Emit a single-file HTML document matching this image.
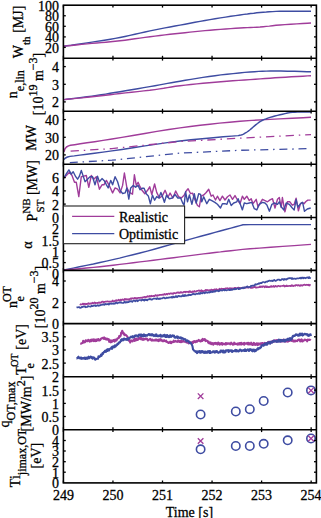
<!DOCTYPE html>
<html><head><meta charset="utf-8"><style>html,body{margin:0;padding:0;background:#fff;width:321px;height:518px;overflow:hidden;position:relative}</style></head>
<body>
<svg width="321" height="518" viewBox="0 0 321 518" style="position:absolute;left:0;top:0">
<rect width="321" height="518" fill="#fff"/>
<defs><clipPath id="ax"><rect x="63.4" y="5" width="253" height="477.6"/></clipPath></defs>
<g clip-path="url(#ax)">
<polyline points="64.0,46.2 67.0,45.8 71.3,45.2 76.2,44.4 81.6,43.7 87.0,42.9 92.0,42.1 96.6,41.4 101.3,40.7 105.9,40.0 110.5,39.2 115.2,38.4 120.0,37.5 124.9,36.5 129.9,35.4 134.9,34.3 139.9,33.1 145.0,32.0 150.0,30.9 155.0,29.9 160.0,28.9 165.0,27.9 170.0,27.0 175.0,26.0 180.0,25.1 185.0,24.2 190.0,23.2 195.0,22.3 200.0,21.4 205.0,20.5 210.0,19.6 215.1,18.8 220.4,17.9 225.6,17.1 230.7,16.3 235.6,15.6 240.0,15.0 243.9,14.4 247.4,14.0 250.6,13.5 253.7,13.2 256.8,12.8 260.0,12.5 263.2,12.2 266.3,12.0 269.3,11.7 272.5,11.6 276.0,11.4 280.0,11.3 284.9,11.2 290.7,11.2 296.8,11.2 302.6,11.2 307.5,11.2 311.0,11.2" fill="none" stroke="#3e4ca2" stroke-width="1.45" stroke-linejoin="round"/>
<polyline points="64.0,46.2 67.0,45.9 71.3,45.5 76.2,45.0 81.6,44.4 87.0,43.9 92.0,43.4 96.6,43.0 101.3,42.6 105.9,42.2 110.5,41.8 115.2,41.3 120.0,40.8 124.9,40.2 129.9,39.5 134.9,38.8 139.9,38.1 145.0,37.4 150.0,36.7 155.0,36.1 160.0,35.5 165.0,34.9 170.0,34.3 175.0,33.7 180.0,33.2 185.0,32.7 190.0,32.1 195.0,31.6 200.0,31.1 205.0,30.6 210.0,30.2 215.1,29.8 220.4,29.4 225.6,29.0 230.7,28.6 235.6,28.3 240.0,28.0 243.9,27.8 247.4,27.6 250.6,27.5 253.7,27.4 256.8,27.2 260.0,27.0 263.2,26.7 266.3,26.4 269.3,26.1 272.5,25.7 276.0,25.3 280.0,25.0 284.9,24.6 290.7,24.3 296.8,23.9 302.6,23.5 307.5,23.2 311.0,23.0" fill="none" stroke="#a03c9a" stroke-width="1.45" stroke-linejoin="round"/>
<polyline points="64.0,99.6 67.0,99.2 71.3,98.7 76.2,98.1 81.6,97.5 87.0,96.8 92.0,96.1 96.6,95.4 101.1,94.8 105.6,94.1 110.1,93.3 114.9,92.5 120.0,91.7 125.5,90.8 131.5,89.8 137.7,88.7 143.8,87.6 149.7,86.6 155.0,85.7 159.6,84.9 163.7,84.1 167.5,83.4 171.3,82.7 175.4,82.0 180.0,81.2 185.3,80.3 190.9,79.4 196.9,78.4 203.0,77.4 209.1,76.5 215.0,75.7 220.9,74.9 227.0,74.2 233.1,73.6 239.1,73.0 244.7,72.4 250.0,72.0 254.6,71.7 258.7,71.4 262.4,71.2 266.2,71.1 270.3,71.0 275.0,71.0 280.8,71.0 287.5,71.2 294.6,71.3 301.3,71.5 307.0,71.7 311.0,71.8" fill="none" stroke="#3e4ca2" stroke-width="1.45" stroke-linejoin="round"/>
<polyline points="64.0,99.6 67.0,99.3 71.3,98.9 76.2,98.4 81.6,97.9 87.0,97.3 92.0,96.8 96.6,96.3 101.1,95.8 105.6,95.2 110.1,94.7 114.9,94.1 120.0,93.5 125.5,92.9 131.5,92.2 137.7,91.6 143.8,90.9 149.7,90.3 155.0,89.6 159.6,88.9 163.7,88.3 167.5,87.6 171.3,87.0 175.4,86.3 180.0,85.7 185.3,85.1 190.9,84.5 196.9,83.9 203.0,83.3 209.1,82.7 215.0,82.2 220.9,81.7 226.9,81.2 232.8,80.8 238.7,80.4 244.5,80.0 250.0,79.6 255.3,79.2 260.3,78.9 265.2,78.5 270.1,78.2 275.0,77.8 280.0,77.5 285.5,77.2 291.4,76.8 297.4,76.5 302.9,76.2 307.6,75.9 311.0,75.7" fill="none" stroke="#a03c9a" stroke-width="1.45" stroke-linejoin="round"/>
<polyline points="64.0,151.9 65.0,148.8 66.5,147.0 68.5,145.9 70.5,145.3 70.5,145.3 74.7,144.7 80.3,143.8 87.0,142.8 94.7,141.7 103.1,140.4 112.0,139.0 121.9,137.4 133.0,135.5 144.8,133.5 156.9,131.4 168.8,129.5 180.0,127.9 190.3,126.5 200.2,125.3 209.8,124.2 219.5,123.1 229.5,122.2 240.0,121.3 252.0,120.4 265.5,119.6 279.2,118.9 292.2,118.2 303.1,117.7 311.0,117.3" fill="none" stroke="#a03c9a" stroke-width="1.45" stroke-linejoin="round"/>
<polyline points="64.0,159.6 65.5,158.0 67.5,157.0 70.0,156.4 70.0,156.4 74.3,155.9 79.9,155.1 86.8,154.3 94.5,153.3 103.0,152.1 112.0,150.9 121.9,149.5 133.1,147.8 145.0,145.9 157.1,144.1 168.9,142.4 180.0,141.0 190.9,139.8 202.2,138.7 213.2,137.7 223.3,136.8 231.8,136.1 238.0,135.6 238.0,135.6 238.7,135.5 239.8,135.3 240.9,135.1 242.0,134.8 243.0,134.4 244.0,133.8 245.0,133.2 246.0,132.6 247.0,132.0 247.9,131.4 248.9,130.7 250.0,129.8 251.4,128.6 252.9,127.3 254.5,125.9 256.0,124.6 257.5,123.5 258.9,122.4 260.4,121.4 262.0,120.5 263.8,119.6 265.8,118.9 267.8,118.1 270.0,117.4 272.4,116.7 274.9,116.0 277.5,115.4 280.0,114.8 282.5,114.2 285.0,113.6 287.5,113.0 290.0,112.6 292.5,112.3 294.9,112.2 297.4,112.1 300.0,112.0 302.9,111.9 306.1,111.9 309.0,111.9 311.0,111.9" fill="none" stroke="#3e4ca2" stroke-width="1.45" stroke-linejoin="round"/>
<polyline points="70.6,151.2 112.0,148.6 180.0,141.5 240.0,138.2 311.0,134.6" fill="none" stroke="#a03c9a" stroke-width="1.3" stroke-linejoin="round" stroke-dasharray="8.3,4.9,1.5,4.9"/>
<polyline points="69.8,162.6 112.0,160.2 180.0,153.1 240.0,150.3 311.0,148.6" fill="none" stroke="#3e4ca2" stroke-width="1.3" stroke-linejoin="round" stroke-dasharray="8,4.8,1.5,4.8"/>
<polyline points="63.9,178.0 67.0,174.8 69.5,172.3 72.0,175.5 74.5,182.3 76.3,182.3 78.8,196.6 81.3,176.7 83.8,176.1 86.3,175.5 88.8,187.3 91.3,175.5 93.8,179.2 96.3,176.7 99.4,189.2 102.0,184.8 103.9,184.8 106.4,180.4 108.9,184.8 112.6,192.9 115.1,187.9 117.6,189.2 120.1,192.9 122.6,185.4 124.4,173.0 126.9,187.9 129.4,192.3 132.5,194.2 134.4,174.8 136.3,185.4 138.1,182.3 140.0,186.7 142.0,190.3 144.8,193.8 147.6,190.3 149.7,186.8 151.8,194.5 154.6,184.0 156.7,192.4 159.5,198.0 162.3,195.9 165.1,190.3 167.9,197.3 170.1,193.1 172.9,198.0 175.7,191.0 178.5,196.6 181.3,198.0 184.1,195.2 186.2,191.0 188.1,188.7 190.6,193.7 192.5,193.1 195.0,200.0 197.5,205.5 199.3,206.8 201.2,196.2 203.7,195.0 206.2,192.5 208.7,189.3 211.2,196.2 213.0,195.0 215.5,200.0 217.4,196.2 219.9,200.6 222.4,196.2 225.0,200.0 227.5,196.8 230.0,195.0 232.5,199.3 235.0,195.6 237.5,200.0 240.0,203.7 242.4,196.2 244.3,199.3 246.8,196.2 249.3,200.6 251.2,198.7 253.0,203.7 256.2,199.3 258.0,206.8 259.9,203.7 262.4,199.3 265.0,200.6 267.5,201.8 270.0,199.9 272.5,198.7 275.0,208.0 277.5,199.3 279.3,197.5 281.2,207.4 282.4,197.5 284.9,211.8 287.4,201.8 289.9,201.8 292.3,205.2 294.2,204.3 296.1,198.2 298.4,210.8 300.3,204.3 302.1,202.4 304.0,203.8 305.9,201.5 307.8,200.1 310.7,200.1" fill="none" stroke="#a03c9a" stroke-width="1.4" stroke-linejoin="round"/>
<polyline points="63.9,178.0 66.4,173.6 68.9,169.9 71.3,174.2 73.2,171.7 75.7,176.7 77.6,179.2 79.4,176.1 81.3,170.5 83.2,176.1 85.1,181.7 87.5,179.2 90.0,176.7 92.5,176.7 95.0,184.8 97.5,176.1 99.4,181.7 102.0,178.6 104.5,181.1 106.4,184.8 108.2,187.9 110.7,180.4 112.6,184.8 115.1,176.7 117.6,181.7 120.1,190.4 122.6,193.5 125.1,192.9 126.9,187.9 128.8,199.1 130.7,187.9 133.2,185.4 135.6,187.3 138.1,185.4 140.0,189.8 142.0,188.2 144.1,188.2 146.2,193.8 148.3,195.9 150.4,203.7 152.5,195.2 154.6,200.2 156.7,196.6 158.8,198.0 160.9,192.4 163.0,198.0 164.4,202.3 166.5,195.2 169.3,198.8 172.2,198.0 175.0,194.5 177.8,198.0 180.6,198.0 182.7,203.0 184.1,205.1 185.6,191.8 187.5,201.8 189.4,195.0 191.9,204.3 194.3,193.7 196.2,203.0 198.7,193.7 200.6,194.3 201.8,201.8 203.7,196.8 206.8,203.7 209.3,199.3 211.8,200.6 214.9,202.4 217.4,204.3 220.5,208.0 222.4,203.7 225.0,203.7 226.9,204.3 228.7,199.3 231.2,205.5 233.7,203.0 236.8,201.8 238.1,198.7 240.6,205.0 242.4,209.9 244.3,203.0 246.8,203.7 249.3,203.0 251.8,202.4 254.3,208.7 256.8,209.9 259.3,204.3 262.4,202.4 265.0,203.0 266.9,204.9 269.4,211.2 271.9,204.3 274.3,203.0 277.5,204.3 279.3,201.8 281.2,206.8 283.7,209.9 286.2,203.0 289.3,204.3 292.3,208.0 294.2,209.9 296.1,199.6 297.9,207.1 300.7,203.4 302.6,202.4 304.5,211.3 307.3,209.0 310.7,208.0" fill="none" stroke="#3e4ca2" stroke-width="1.4" stroke-linejoin="round"/>
<polyline points="64.0,270.0 67.9,269.2 73.2,268.1 79.5,266.8 86.4,265.4 93.4,264.0 100.0,262.5 106.4,261.1 112.9,259.6 119.5,258.1 126.2,256.4 133.0,254.8 140.0,253.0 147.3,251.1 155.0,249.0 162.8,246.8 170.5,244.6 177.8,242.6 184.5,240.7 190.4,239.1 195.8,237.6 200.8,236.3 205.5,235.0 210.2,233.7 215.0,232.4 220.1,231.0 225.6,229.5 230.9,228.1 235.8,226.7 240.0,225.6 243.0,224.8 250.0,224.6 311.0,224.6" fill="none" stroke="#3e4ca2" stroke-width="1.45" stroke-linejoin="round"/>
<polyline points="64.0,270.0 67.9,269.7 73.2,269.2 79.5,268.7 86.4,268.0 93.4,267.4 100.0,266.7 106.4,266.0 113.0,265.2 119.8,264.4 126.5,263.6 133.3,262.7 140.0,261.9 146.7,261.1 153.5,260.2 160.3,259.4 167.0,258.5 173.6,257.7 180.0,256.9 186.1,256.1 192.0,255.4 197.8,254.6 203.5,253.9 209.2,253.2 215.0,252.5 220.5,251.9 225.7,251.2 230.9,250.7 236.4,250.1 242.7,249.4 250.0,248.8 259.4,248.1 270.7,247.2 282.7,246.4 294.2,245.6 304.1,244.9 311.0,244.4" fill="none" stroke="#a03c9a" stroke-width="1.45" stroke-linejoin="round"/>
<polyline points="79.7,304.3 80.3,304.6 80.9,304.3 81.5,304.5 82.1,304.5 82.7,303.7 83.3,303.6 83.9,304.5 84.5,303.8 85.1,303.7 85.7,304.5 86.3,303.8 86.9,304.2 87.5,303.7 88.1,303.8 88.7,303.2 89.3,303.7 89.9,303.9 90.5,303.4 91.1,303.6 91.7,303.5 92.3,302.7 92.9,303.4 93.5,303.2 94.1,302.8 94.7,302.4 95.3,303.3 95.9,302.8 96.5,303.0 97.1,303.1 97.7,302.9 98.3,303.0 98.9,302.3 99.5,302.8 100.1,302.3 100.7,302.8 101.3,302.6 101.9,301.6 102.5,301.6 103.1,301.7 103.7,302.5 104.3,301.8 104.9,301.9 105.5,301.5 106.1,301.7 106.7,301.5 107.3,301.3 107.9,301.6 108.5,301.5 109.1,301.8 109.7,301.5 110.3,301.7 110.9,301.6 111.5,301.6 112.1,301.2 112.7,300.5 113.3,301.3 113.9,301.4 114.5,301.2 115.1,300.7 115.7,300.8 116.3,300.2 116.9,300.9 117.5,300.5 118.1,300.1 118.7,299.7 119.3,300.6 119.9,300.7 120.5,299.6 121.1,300.4 121.7,299.8 122.3,299.4 122.9,299.5 123.5,300.0 124.1,300.1 124.7,299.0 125.3,299.7 125.9,298.9 126.5,299.7 127.1,299.1 127.7,299.7 128.3,299.8 128.9,299.1 129.5,299.7 130.1,298.8 130.7,298.4 131.3,299.0 131.9,298.2 132.5,298.3 133.1,298.5 133.7,298.7 134.3,298.0 134.9,297.8 135.5,298.7 136.1,298.0 136.7,298.7 137.3,298.5 137.9,297.8 138.5,297.8 139.1,297.8 139.7,297.9 140.3,297.8 140.9,297.7 141.5,297.6 142.1,298.0 142.7,297.4 143.3,297.2 143.9,297.5 144.5,296.8 145.1,296.8 145.7,297.5 146.3,296.9 146.9,296.9 147.5,296.1 148.1,296.5 148.7,296.7 149.3,295.9 149.9,296.6 150.5,296.5 151.1,295.7 151.7,296.3 152.3,296.1 152.9,296.2 153.5,295.8 154.1,296.1 154.7,296.1 155.3,295.1 155.9,295.1 156.5,295.8 157.1,296.0 157.7,295.1 158.3,295.3 158.9,295.4 159.5,294.9 160.1,294.9 160.7,294.8 161.3,294.8 161.9,295.0 162.5,294.5 163.1,294.5 163.7,294.9 164.3,294.0 164.9,294.5 165.5,294.7 166.1,294.1 166.7,293.9 167.3,294.5 167.9,293.8 168.5,293.6 169.1,293.8 169.7,294.1 170.3,293.3 170.9,293.5 171.5,293.4 172.1,293.9 172.7,293.4 173.3,293.8 173.9,292.9 174.5,293.0 175.1,293.3 175.7,293.5 176.3,292.9 176.9,292.6 177.5,292.4 178.1,292.8 178.7,292.3 179.3,293.0 179.9,292.9 180.5,292.1 181.1,292.1 181.7,292.7 182.3,292.5 182.9,292.6 183.5,292.0 184.1,291.7 184.7,291.9 185.3,292.4 185.9,291.7 186.5,291.8 187.1,291.8 187.7,291.8 188.3,291.7 188.9,292.3 189.5,291.3 190.1,291.1 190.7,292.1 191.3,292.0 191.9,292.1 192.5,291.4 193.1,292.0 193.7,291.9 194.3,291.0 194.9,291.6 195.5,291.6 196.1,291.4 196.7,291.1 197.3,290.8 197.9,290.8 198.5,290.6 199.1,290.4 199.7,291.0 200.3,290.6 200.9,291.1 201.5,290.2 202.1,291.2 202.7,290.9 203.3,291.1 203.9,291.0 204.5,291.0 205.1,290.5 205.7,289.8 206.3,290.6 206.9,289.9 207.5,290.0 208.1,290.4 208.7,290.2 209.3,290.0 209.9,290.6 210.5,290.1 211.1,289.7 211.7,289.6 212.3,290.3 212.9,289.8 213.5,290.1 214.1,289.5 214.7,289.3 215.3,289.6 215.9,289.9 216.5,289.1 217.1,289.8 217.7,289.9 218.3,289.7 218.9,289.7 219.5,288.7 220.1,289.3 220.7,289.6 221.3,288.6 221.9,288.8 222.5,288.8 223.1,289.0 223.7,288.9 224.3,288.9 224.9,289.2 225.5,288.3 226.1,288.3 226.7,288.3 227.3,288.3 227.9,288.2 228.5,289.2 229.1,289.1 229.7,288.1 230.3,288.6 230.9,288.3 231.5,288.3 232.1,288.3 232.7,288.6 233.3,288.5 233.9,288.2 234.5,287.9 235.1,288.1 235.7,287.8 236.3,288.3 236.9,288.4 237.5,288.0 238.1,287.6 238.7,287.7 239.3,287.9 239.9,288.1 240.5,288.3 241.1,287.8 241.7,288.2 242.3,288.0 242.9,287.7 243.5,287.6 244.1,287.7 244.7,287.9 245.3,287.5 245.9,287.8 246.5,287.5 247.1,287.2 247.7,287.6 248.3,287.7 248.9,287.0 249.5,287.4 250.1,287.3 250.7,287.9 251.3,287.9 251.9,287.2 252.5,287.8 253.1,287.6 253.7,287.0 254.3,287.2 254.9,286.8 255.5,287.6 256.1,287.4 256.7,287.6 257.3,287.5 257.9,287.3 258.5,287.3 259.1,287.1 259.7,286.5 260.3,287.1 260.9,286.4 261.5,286.5 262.1,287.2 262.7,286.3 263.3,286.4 263.9,286.4 264.5,287.3 265.1,286.4 265.7,286.2 266.3,287.2 266.9,286.3 267.5,287.1 268.1,286.9 268.7,287.1 269.3,287.2 269.9,286.7 270.5,286.9 271.1,286.0 271.7,286.9 272.3,286.5 272.9,286.7 273.5,286.0 274.1,286.7 274.7,286.9 275.3,285.9 275.9,286.1 276.5,286.4 277.1,286.7 277.7,286.0 278.3,285.9 278.9,285.9 279.5,286.3 280.1,286.5 280.7,286.0 281.3,286.0 281.9,286.0 282.5,285.9 283.1,286.0 283.7,285.5 284.3,286.0 284.9,286.5 285.5,285.9 286.1,286.2 286.7,285.5 287.3,286.1 287.9,286.2 288.5,286.0 289.1,285.8 289.7,285.8 290.3,285.9 290.9,286.2 291.5,285.3 292.1,285.2 292.7,286.0 293.3,286.1 293.9,285.6 294.5,285.5 295.1,285.8 295.7,285.2 296.3,285.2 296.9,285.1 297.5,285.6 298.1,285.2 298.7,285.1 299.3,285.6 299.9,285.9 300.5,285.1 301.1,285.6 301.7,285.2 302.3,285.7 302.9,285.3 303.5,284.9 304.1,284.8 304.7,284.6 305.3,285.1 305.9,285.0 306.5,284.7 307.1,284.9 307.7,284.8 308.3,285.3 308.9,284.6 309.5,285.6 310.1,284.9 310.7,285.0" fill="none" stroke="#a03c9a" stroke-width="1.7" stroke-linejoin="round"/>
<polyline points="76.5,307.5 77.1,307.3 77.7,307.5 78.3,307.2 78.9,307.0 79.5,307.3 80.1,307.9 80.7,307.7 81.3,307.6 81.9,306.8 82.5,307.1 83.1,306.8 83.7,306.6 84.3,306.4 84.9,306.5 85.5,307.3 86.1,307.1 86.7,307.0 87.3,306.9 87.9,306.1 88.5,306.2 89.1,306.5 89.7,306.5 90.3,306.6 90.9,306.6 91.5,305.6 92.1,306.1 92.7,306.1 93.3,305.9 93.9,305.4 94.5,305.7 95.1,305.2 95.7,306.1 96.3,305.9 96.9,305.5 97.5,305.1 98.1,305.8 98.7,305.3 99.3,305.6 99.9,305.5 100.5,305.0 101.1,304.8 101.7,305.0 102.3,304.7 102.9,304.3 103.5,304.4 104.1,305.0 104.7,304.0 105.3,303.9 105.9,304.5 106.5,304.1 107.1,304.3 107.7,304.1 108.3,303.9 108.9,304.6 109.5,303.6 110.1,303.8 110.7,303.5 111.3,303.9 111.9,303.4 112.5,303.5 113.1,303.9 113.7,303.3 114.3,303.5 114.9,303.8 115.5,302.8 116.1,302.7 116.7,302.8 117.3,303.4 117.9,303.1 118.5,302.6 119.1,302.7 119.7,302.4 120.3,302.7 120.9,302.1 121.5,302.8 122.1,303.0 122.7,303.0 123.3,302.7 123.9,302.9 124.5,301.7 125.1,301.9 125.7,302.7 126.3,302.4 126.9,301.9 127.5,302.4 128.1,302.0 128.7,302.1 129.3,301.4 129.9,301.2 130.5,301.5 131.1,301.0 131.7,301.3 132.3,301.9 132.9,301.1 133.5,300.6 134.1,300.6 134.7,300.7 135.3,301.4 135.9,300.8 136.5,300.6 137.1,300.3 137.7,301.3 138.3,300.6 138.9,300.3 139.5,300.0 140.1,300.0 140.7,300.0 141.3,300.6 141.9,299.9 142.5,299.7 143.1,300.2 143.7,299.8 144.3,300.7 144.9,299.5 145.5,300.0 146.1,300.2 146.7,299.7 147.3,300.3 147.9,299.6 148.5,299.3 149.1,299.4 149.7,298.9 150.3,299.3 150.9,299.0 151.5,299.7 152.1,299.6 152.7,299.1 153.3,298.5 153.9,298.7 154.5,298.6 155.1,298.5 155.7,298.5 156.3,299.2 156.9,298.3 157.5,298.1 158.1,299.1 158.7,298.6 159.3,299.0 159.9,298.3 160.5,298.8 161.1,298.4 161.7,298.5 162.3,298.4 162.9,298.0 163.5,297.5 164.1,297.6 164.7,298.3 165.3,298.3 165.9,298.2 166.5,297.5 167.1,297.8 167.7,297.9 168.3,297.6 168.9,297.8 169.5,297.4 170.1,297.5 170.7,297.4 171.3,296.9 171.9,297.6 172.5,297.6 173.1,296.4 173.7,297.4 174.3,297.4 174.9,297.0 175.5,296.1 176.1,297.1 176.7,296.1 177.3,297.1 177.9,296.6 178.5,295.8 179.1,295.9 179.7,296.4 180.3,296.2 180.9,296.4 181.5,296.5 182.1,295.6 182.7,295.2 183.3,296.2 183.9,295.1 184.5,296.0 185.1,295.0 185.7,295.8 186.3,295.7 186.9,295.7 187.5,295.2 188.1,295.5 188.7,294.6 189.3,295.1 189.9,294.6 190.5,295.2 191.1,295.0 191.7,294.5 192.3,294.5 192.9,293.8 193.5,293.8 194.1,294.3 194.7,294.1 195.3,294.5 195.9,294.1 196.5,293.5 197.1,293.6 197.7,294.0 198.3,293.7 198.9,293.0 199.5,293.9 200.1,293.8 200.7,292.8 201.3,293.3 201.9,293.0 202.5,293.4 203.1,292.7 203.7,292.6 204.3,292.8 204.9,293.3 205.5,292.1 206.1,292.1 206.7,292.6 207.3,292.8 207.9,292.3 208.5,292.1 209.1,292.6 209.7,292.4 210.3,291.4 210.9,292.3 211.5,291.4 212.1,291.5 212.7,292.0 213.3,291.4 213.9,291.8 214.5,291.0 215.1,291.7 215.7,290.8 216.3,290.7 216.9,291.0 217.5,290.8 218.1,290.9 218.7,291.3 219.3,291.0 219.9,290.0 220.5,290.3 221.1,290.5 221.7,290.4 222.3,290.6 222.9,290.3 223.5,289.7 224.1,289.9 224.7,290.5 225.3,289.9 225.9,290.3 226.5,290.5 227.1,290.0 227.7,290.0 228.3,289.9 228.9,289.5 229.5,290.1 230.1,289.6 230.7,290.0 231.3,289.2 231.9,289.9 232.5,289.7 233.1,289.4 233.7,289.2 234.3,288.7 234.9,289.4 235.5,288.9 236.1,289.2 236.7,288.5 237.3,288.4 237.9,288.4 238.5,289.1 239.1,288.3 239.7,289.1 240.3,288.4 240.9,288.5 241.5,288.1 242.1,288.3 242.7,287.5 243.3,287.8 243.9,288.3 244.5,287.3 245.1,287.7 245.7,287.2 246.3,287.0 246.9,286.6 247.5,286.4 248.1,287.4 248.7,287.2 249.3,287.0 249.9,286.9 250.5,286.9 251.1,285.7 251.7,286.0 252.3,285.7 252.9,285.6 253.5,285.8 254.1,285.4 254.7,285.4 255.3,284.2 255.9,284.6 256.5,284.4 257.1,284.3 257.7,283.9 258.3,284.0 258.9,283.1 259.5,283.7 260.1,282.9 260.7,283.0 261.3,283.2 261.9,282.8 262.5,282.2 263.1,282.0 263.7,282.0 264.3,282.2 264.9,282.6 265.5,282.3 266.1,281.6 266.7,281.5 267.3,281.8 267.9,281.1 268.5,281.1 269.1,280.5 269.7,280.6 270.3,280.9 270.9,281.0 271.5,280.9 272.1,280.5 272.7,281.1 273.3,280.7 273.9,280.0 274.5,279.9 275.1,280.9 275.7,280.8 276.3,280.7 276.9,280.2 277.5,279.8 278.1,279.5 278.7,279.6 279.3,279.5 279.9,280.3 280.5,280.2 281.1,280.0 281.7,279.1 282.3,279.2 282.9,279.2 283.5,279.9 284.1,278.9 284.7,279.6 285.3,279.4 285.9,279.1 286.5,279.6 287.1,278.6 287.7,278.9 288.3,278.4 288.9,278.2 289.5,278.1 290.1,278.4 290.7,278.1 291.3,278.0 291.9,279.1 292.5,278.2 293.1,278.9 293.7,278.7 294.3,278.7 294.9,278.6 295.5,278.9 296.1,278.8 296.7,278.5 297.3,278.3 297.9,278.5 298.5,278.5 299.1,278.2 299.7,278.1 300.3,277.7 300.9,278.5 301.5,278.0 302.1,277.5 302.7,277.6 303.3,278.4 303.9,277.6 304.5,277.8 305.1,278.1 305.7,278.3 306.3,277.6 306.9,277.7 307.5,277.7 308.1,277.2 308.7,278.2 309.3,277.1 309.9,278.2 310.5,277.2" fill="none" stroke="#3e4ca2" stroke-width="1.7" stroke-linejoin="round"/>
<polyline points="80.2,343.7 80.7,343.7 81.2,343.5 81.7,343.5 82.2,342.8 82.7,342.9 83.2,340.7 83.7,341.4 84.2,342.3 84.7,341.6 85.2,342.1 85.7,340.3 86.2,341.0 86.7,340.5 87.2,341.1 87.7,341.1 88.2,339.8 88.7,340.2 89.2,340.3 89.7,341.6 90.2,341.3 90.7,339.9 91.2,341.2 91.7,339.7 92.2,340.7 92.7,339.6 93.2,339.3 93.7,341.1 94.2,339.6 94.7,339.6 95.2,341.2 95.7,340.9 96.2,339.5 96.7,340.9 97.2,339.9 97.7,340.1 98.2,339.0 98.7,340.5 99.2,339.9 99.7,340.4 100.2,340.1 100.7,338.7 101.2,338.8 101.7,338.2 102.2,338.1 102.7,337.8 103.2,338.2 103.7,338.8 104.2,337.4 104.7,339.0 105.2,338.4 105.7,338.4 106.2,339.6 106.7,339.0 107.2,338.7 107.7,339.2 108.2,340.0 108.7,339.1 109.2,341.7 109.7,340.2 110.2,342.1 110.7,342.3 111.2,340.4 111.7,342.0 112.2,341.0 112.7,341.4 113.2,340.0 113.7,340.0 114.2,340.2 114.7,341.6 115.2,339.6 115.7,340.5 116.2,340.6 116.7,340.3 117.2,338.7 117.7,338.4 118.2,338.3 118.7,338.2 119.2,336.1 119.7,336.9 120.2,336.3 120.7,335.6 121.2,332.5 121.7,333.2 122.2,330.8 122.7,331.9 123.2,333.1 123.7,334.3 124.2,333.5 124.7,335.3 125.2,334.9 125.7,334.8 126.2,335.4 126.7,335.8 127.2,336.4 127.7,337.3 128.2,339.2 128.7,340.6 129.2,339.6 129.7,340.1 130.2,342.5 130.7,341.3 131.2,340.9 131.7,340.4 132.2,341.0 132.7,341.4 133.2,340.4 133.7,340.1 134.2,339.2 134.7,340.9 135.2,338.8 135.7,339.7 136.2,340.3 136.7,338.5 137.2,339.7 137.7,340.0 138.2,339.2 138.7,339.3 139.2,337.7 139.7,338.3 140.2,337.6 140.7,339.2 141.2,338.0 141.7,338.4 142.2,339.7 142.7,339.5 143.2,339.8 143.7,338.7 144.2,338.9 144.7,339.5 145.2,339.0 145.7,338.6 146.2,339.0 146.7,338.5 147.2,339.0 147.7,340.5 148.2,340.5 148.7,339.8 149.2,339.6 149.7,339.3 150.2,338.8 150.7,339.2 151.2,340.4 151.7,340.6 152.2,339.5 152.7,340.5 153.2,340.5 153.7,340.3 154.2,340.3 154.7,340.5 155.2,339.7 155.7,340.5 156.2,339.5 156.7,340.0 157.2,340.7 157.7,340.5 158.2,339.7 158.7,341.1 159.2,340.5 159.7,340.4 160.2,339.2 160.7,340.4 161.2,339.7 161.7,340.7 162.2,340.3 162.7,341.1 163.2,340.7 163.7,341.1 164.2,340.1 164.7,340.8 165.2,341.1 165.7,341.5 166.2,340.7 166.7,341.9 167.2,342.2 167.7,342.0 168.2,342.8 168.7,343.0 169.2,342.2 169.7,342.4 170.2,341.7 170.7,343.0 171.2,343.1 171.7,341.9 172.2,342.3 172.7,342.2 173.2,342.0 173.7,340.7 174.2,341.9 174.7,341.3 175.2,341.4 175.7,340.9 176.2,341.4 176.7,341.8 177.2,341.6 177.7,341.8 178.2,340.4 178.7,340.7 179.2,341.4 179.7,341.9 180.2,341.0 180.7,342.1 181.2,342.1 181.7,340.8 182.2,341.8 182.7,341.4 183.2,341.0 183.7,341.3 184.2,341.7 184.7,341.5 185.2,341.6 185.7,341.3 186.2,342.3 186.7,342.2 187.2,342.7 187.7,342.7 188.2,342.0 188.7,343.5 189.2,341.6 189.7,342.6 190.2,342.4 190.7,342.8 191.2,342.3 191.7,344.0 192.2,343.0 192.7,341.9 193.2,342.8 193.7,341.3 194.2,341.9 194.7,341.1 195.2,341.3 195.7,342.1 196.2,341.7 196.7,340.8 197.2,341.6 197.7,341.1 198.2,340.4 198.7,339.9 199.2,340.8 199.7,340.6 200.2,341.4 200.7,341.4 201.2,340.5 201.7,339.9 202.2,341.0 202.7,338.9 203.2,339.1 203.7,340.0 204.2,340.1 204.7,339.0 205.2,340.1 205.7,341.1 206.2,340.3 206.7,340.8 207.2,340.7 207.7,341.1 208.2,342.8 208.7,341.8 209.2,343.3 209.7,343.4 210.2,342.9 210.7,342.4 211.2,344.3 211.7,343.4 212.2,343.4 212.7,343.2 213.2,344.7 213.7,343.6 214.2,343.2 214.7,343.6 215.2,342.8 215.7,343.9 216.2,343.5 216.7,343.2 217.2,344.3 217.7,344.4 218.2,342.6 218.7,343.8 219.2,343.2 219.7,344.7 220.2,344.3 220.7,343.2 221.2,343.2 221.7,343.0 222.2,344.8 222.7,343.3 223.2,344.0 223.7,343.7 224.2,344.1 224.7,344.0 225.2,344.3 225.7,343.0 226.2,344.4 226.7,343.3 227.2,343.9 227.7,343.4 228.2,343.3 228.7,343.8 229.2,343.7 229.7,343.4 230.2,344.3 230.7,343.9 231.2,342.7 231.7,343.2 232.2,343.6 232.7,344.6 233.2,344.6 233.7,343.8 234.2,342.6 234.7,344.3 235.2,343.5 235.7,343.9 236.2,344.2 236.7,344.0 237.2,343.7 237.7,344.6 238.2,343.4 238.7,343.5 239.2,344.5 239.7,343.0 240.2,343.3 240.7,344.4 241.2,342.7 241.7,344.4 242.2,344.1 242.7,343.6 243.2,343.2 243.7,344.3 244.2,344.6 244.7,342.9 245.2,343.7 245.7,343.8 246.2,343.7 246.7,343.3 247.2,342.9 247.7,343.9 248.2,344.4 248.7,342.8 249.2,343.1 249.7,344.4 250.2,344.4 250.7,344.1 251.2,342.7 251.7,344.3 252.2,344.9 252.7,345.0 253.2,344.3 253.7,342.9 254.2,344.7 254.7,343.4 255.2,344.3 255.7,345.0 256.2,344.5 256.7,343.3 257.2,343.7 257.7,345.1 258.2,343.4 258.7,344.5 259.2,344.1 259.7,343.5 260.2,344.5 260.7,343.2 261.2,343.3 261.7,343.8 262.2,343.1 262.7,343.0 263.2,344.1 263.7,344.4 264.2,344.6 264.7,342.9 265.2,343.5 265.7,343.1 266.2,343.6 266.7,343.2 267.2,344.1 267.7,342.7 268.2,341.9 268.7,343.1 269.2,341.8 269.7,342.7 270.2,342.3 270.7,343.1 271.2,342.1 271.7,342.2 272.2,341.2 272.7,341.7 273.2,340.9 273.7,341.9 274.2,341.3 274.7,340.3 275.2,340.4 275.7,340.7 276.2,341.5 276.7,340.2 277.2,341.4 277.7,341.3 278.2,340.0 278.7,341.3 279.2,340.0 279.7,340.0 280.2,341.1 280.7,340.3 281.2,341.6 281.7,340.8 282.2,340.4 282.7,341.4 283.2,339.7 283.7,341.2 284.2,339.7 284.7,339.9 285.2,341.7 285.7,341.1 286.2,340.1 286.7,339.9 287.2,341.7 287.7,341.1 288.2,341.4 288.7,339.9 289.2,341.0 289.7,340.4 290.2,340.1 290.7,340.3 291.2,341.0 291.7,340.4 292.2,340.4 292.7,339.9 293.2,341.4 293.7,341.0 294.2,341.3 294.7,340.5 295.2,341.4 295.7,340.7 296.2,340.8 296.7,340.8 297.2,341.1 297.7,340.4 298.2,339.7 298.7,339.6 299.2,339.9 299.7,339.6 300.2,341.4 300.7,340.5 301.2,341.1 301.7,339.4 302.2,340.5 302.7,341.4 303.2,340.8 303.7,340.4 304.2,340.4 304.7,339.6 305.2,339.7 305.7,339.7 306.2,340.2 306.7,340.2 307.2,341.3 307.7,339.7 308.2,339.9 308.7,339.9 309.2,339.7 309.7,340.0 310.2,339.8 310.7,340.4" fill="none" stroke="#a03c9a" stroke-width="2.1" stroke-linejoin="round"/>
<polyline points="76.5,358.3 77.0,358.4 77.5,357.7 78.0,357.3 78.5,356.7 79.0,358.2 79.5,357.8 80.0,358.5 80.5,357.7 81.0,358.6 81.5,357.6 82.0,358.8 82.5,358.6 83.0,358.0 83.5,358.3 84.0,358.6 84.5,357.6 85.0,358.4 85.5,358.9 86.0,357.6 86.5,358.7 87.0,358.3 87.5,358.6 88.0,357.3 88.5,356.7 89.0,358.2 89.5,358.1 90.0,357.2 90.5,356.5 91.0,356.8 91.5,357.9 92.0,357.2 92.5,358.7 93.0,358.0 93.5,357.3 94.0,358.3 94.5,357.9 95.0,359.5 95.5,359.7 96.0,359.0 96.5,359.0 97.0,358.8 97.5,358.7 98.0,358.7 98.5,356.3 99.0,356.7 99.5,356.9 100.0,356.0 100.5,356.1 101.0,354.5 101.5,355.8 102.0,354.5 102.5,353.1 103.0,353.8 103.5,352.6 104.0,351.8 104.5,352.0 105.0,350.7 105.5,350.6 106.0,351.8 106.5,351.2 107.0,349.5 107.5,350.9 108.0,349.0 108.5,349.5 109.0,350.5 109.5,349.6 110.0,348.7 110.5,348.5 111.0,348.2 111.5,347.3 112.0,348.9 112.5,346.5 113.0,347.0 113.5,347.3 114.0,346.2 114.5,347.2 115.0,345.2 115.5,346.5 116.0,345.9 116.5,345.0 117.0,345.1 117.5,343.7 118.0,344.1 118.5,343.7 119.0,342.6 119.5,342.1 120.0,342.3 120.5,341.1 121.0,339.8 121.5,340.8 122.0,339.2 122.5,339.6 123.0,340.3 123.5,338.9 124.0,338.5 124.5,338.7 125.0,339.7 125.5,339.2 126.0,339.0 126.5,339.2 127.0,340.0 127.5,338.3 128.0,338.5 128.5,339.3 129.0,338.5 129.5,337.6 130.0,337.8 130.5,337.6 131.0,336.7 131.5,337.0 132.0,336.6 132.5,337.5 133.0,336.2 133.5,336.8 134.0,337.2 134.5,336.9 135.0,335.5 135.5,336.0 136.0,335.4 136.5,335.5 137.0,335.7 137.5,336.3 138.0,336.6 138.5,335.2 139.0,334.5 139.5,335.4 140.0,334.6 140.5,334.5 141.0,336.1 141.5,334.6 142.0,335.9 142.5,335.1 143.0,336.3 143.5,336.1 144.0,334.4 144.5,334.6 145.0,336.3 145.5,335.5 146.0,335.0 146.5,335.8 147.0,335.8 147.5,335.1 148.0,335.0 148.5,334.2 149.0,334.7 149.5,334.2 150.0,335.3 150.5,335.3 151.0,334.3 151.5,335.4 152.0,334.2 152.5,334.3 153.0,335.5 153.5,335.1 154.0,336.1 154.5,335.5 155.0,335.7 155.5,334.5 156.0,336.1 156.5,334.4 157.0,335.6 157.5,336.3 158.0,336.3 158.5,336.3 159.0,335.4 159.5,335.9 160.0,336.2 160.5,334.8 161.0,336.6 161.5,336.5 162.0,335.5 162.5,336.3 163.0,335.6 163.5,335.2 164.0,336.2 164.5,334.8 165.0,336.5 165.5,336.9 166.0,335.4 166.5,336.9 167.0,335.0 167.5,336.8 168.0,335.6 168.5,337.1 169.0,336.0 169.5,337.1 170.0,335.2 170.5,335.3 171.0,337.0 171.5,336.6 172.0,336.4 172.5,335.4 173.0,335.7 173.5,336.2 174.0,335.5 174.5,337.6 175.0,337.2 175.5,337.7 176.0,337.4 176.5,336.7 177.0,336.3 177.5,337.9 178.0,336.7 178.5,337.8 179.0,337.8 179.5,338.0 180.0,337.2 180.5,337.4 181.0,338.5 181.5,337.6 182.0,338.8 182.5,338.2 183.0,338.6 183.5,338.5 184.0,339.5 184.5,339.3 185.0,339.1 185.5,339.4 186.0,340.4 186.5,341.5 187.0,340.7 187.5,340.4 188.0,341.0 188.5,341.2 189.0,342.2 189.5,342.9 190.0,342.8 190.5,342.5 191.0,343.5 191.5,344.2 192.0,345.0 192.5,346.4 193.0,349.3 193.5,349.9 194.0,350.5 194.5,350.9 195.0,351.1 195.5,351.8 196.0,351.2 196.5,352.1 197.0,353.1 197.5,351.4 198.0,352.4 198.5,351.8 199.0,351.1 199.5,351.1 200.0,352.7 200.5,351.3 201.0,352.6 201.5,351.2 202.0,351.8 202.5,351.1 203.0,352.2 203.5,352.7 204.0,351.5 204.5,352.2 205.0,353.0 205.5,351.6 206.0,352.0 206.5,352.5 207.0,352.8 207.5,351.3 208.0,352.4 208.5,351.2 209.0,351.1 209.5,353.0 210.0,351.0 210.5,352.9 211.0,352.5 211.5,352.3 212.0,352.4 212.5,352.2 213.0,351.4 213.5,351.7 214.0,351.2 214.5,352.6 215.0,352.4 215.5,352.4 216.0,351.1 216.5,352.0 217.0,351.2 217.5,352.4 218.0,352.2 218.5,352.8 219.0,352.1 219.5,352.1 220.0,352.3 220.5,350.7 221.0,351.8 221.5,350.6 222.0,351.3 222.5,350.7 223.0,352.5 223.5,350.5 224.0,352.5 224.5,352.5 225.0,351.4 225.5,352.2 226.0,350.4 226.5,350.6 227.0,350.3 227.5,350.4 228.0,350.2 228.5,352.0 229.0,350.3 229.5,351.4 230.0,350.6 230.5,350.3 231.0,350.9 231.5,350.3 232.0,352.0 232.5,350.7 233.0,351.1 233.5,351.0 234.0,351.1 234.5,350.7 235.0,350.2 235.5,349.9 236.0,351.5 236.5,350.0 237.0,350.5 237.5,351.2 238.0,350.7 238.5,351.5 239.0,351.1 239.5,350.4 240.0,349.5 240.5,350.5 241.0,350.2 241.5,351.1 242.0,350.3 242.5,350.6 243.0,350.8 243.5,350.0 244.0,350.8 244.5,350.9 245.0,349.2 245.5,350.9 246.0,350.9 246.5,350.9 247.0,349.7 247.5,349.6 248.0,349.3 248.5,349.9 249.0,351.0 249.5,349.9 250.0,349.2 250.5,349.8 251.0,349.4 251.5,350.6 252.0,350.9 252.5,351.3 253.0,349.5 253.5,350.2 254.0,349.6 254.5,351.4 255.0,351.2 255.5,350.2 256.0,350.8 256.5,349.5 257.0,349.7 257.5,348.7 258.0,348.1 258.5,349.2 259.0,348.6 259.5,347.8 260.0,348.1 260.5,347.3 261.0,347.4 261.5,345.5 262.0,345.4 262.5,345.0 263.0,345.8 263.5,345.8 264.0,344.3 264.5,344.8 265.0,343.6 265.5,344.7 266.0,344.7 266.5,343.0 267.0,344.8 267.5,343.9 268.0,342.6 268.5,342.9 269.0,342.3 269.5,343.3 270.0,343.6 270.5,341.8 271.0,341.6 271.5,342.4 272.0,342.7 272.5,342.3 273.0,341.4 273.5,340.5 274.0,341.4 274.5,340.9 275.0,341.5 275.5,341.0 276.0,341.3 276.5,341.8 277.0,341.1 277.5,341.7 278.0,340.3 278.5,339.7 279.0,341.6 279.5,339.7 280.0,341.8 280.5,340.6 281.0,339.8 281.5,340.2 282.0,341.2 282.5,340.5 283.0,341.0 283.5,339.8 284.0,341.4 284.5,340.4 285.0,341.4 285.5,339.8 286.0,340.7 286.5,340.1 287.0,339.8 287.5,338.8 288.0,339.8 288.5,340.3 289.0,338.5 289.5,339.1 290.0,338.0 290.5,340.0 291.0,339.8 291.5,339.0 292.0,338.4 292.5,336.6 293.0,335.9 293.5,336.3 294.0,335.6 294.5,336.0 295.0,335.7 295.5,334.8 296.0,334.3 296.5,334.9 297.0,334.5 297.5,334.9 298.0,335.6 298.5,334.6 299.0,335.7 299.5,335.1 300.0,333.6 300.5,335.2 301.0,335.0 301.5,335.0 302.0,333.6 302.5,335.6 303.0,334.8 303.5,334.9 304.0,334.1 304.5,333.8 305.0,333.8 305.5,334.3 306.0,334.5 306.5,334.2 307.0,334.0 307.5,335.5 308.0,335.5 308.5,335.9 309.0,334.5 309.5,335.6 310.0,335.4 310.5,334.3 311.0,336.0" fill="none" stroke="#3e4ca2" stroke-width="2.1" stroke-linejoin="round"/>
</g>
<circle cx="200.6" cy="414.5" r="4.2" fill="none" stroke="#3e4ca2" stroke-width="1.6"/>
<circle cx="235.8" cy="411.5" r="4.2" fill="none" stroke="#3e4ca2" stroke-width="1.6"/>
<circle cx="249.8" cy="409.2" r="4.2" fill="none" stroke="#3e4ca2" stroke-width="1.6"/>
<circle cx="263.7" cy="401" r="4.2" fill="none" stroke="#3e4ca2" stroke-width="1.6"/>
<circle cx="287.7" cy="392.5" r="4.2" fill="none" stroke="#3e4ca2" stroke-width="1.6"/>
<circle cx="311" cy="390.4" r="4.2" fill="none" stroke="#3e4ca2" stroke-width="1.6"/>
<path d="M197.79999999999998,393.4L203.4,399.0M197.79999999999998,399.0L203.4,393.4" stroke="#a03c9a" stroke-width="1.3"/>
<path d="M308.2,387.59999999999997L313.8,393.2M308.2,393.2L313.8,387.59999999999997" stroke="#a03c9a" stroke-width="1.3"/>
<circle cx="200.6" cy="449.3" r="4.2" fill="none" stroke="#3e4ca2" stroke-width="1.6"/>
<circle cx="235.8" cy="446" r="4.2" fill="none" stroke="#3e4ca2" stroke-width="1.6"/>
<circle cx="249.8" cy="446" r="4.2" fill="none" stroke="#3e4ca2" stroke-width="1.6"/>
<circle cx="263.7" cy="443.8" r="4.2" fill="none" stroke="#3e4ca2" stroke-width="1.6"/>
<circle cx="287.7" cy="440.3" r="4.2" fill="none" stroke="#3e4ca2" stroke-width="1.6"/>
<circle cx="311" cy="438.5" r="4.2" fill="none" stroke="#3e4ca2" stroke-width="1.6"/>
<path d="M197.79999999999998,438.2L203.4,443.8M197.79999999999998,443.8L203.4,438.2" stroke="#a03c9a" stroke-width="1.3"/>
<path d="M308.2,435.7L313.8,441.3M308.2,441.3L313.8,435.7" stroke="#a03c9a" stroke-width="1.3"/>
<rect x="63.4" y="5.2" width="252.99999999999997" height="477.7" fill="none" stroke="#000" stroke-width="1.6"/>
<line x1="63.4" y1="58.2" x2="316.4" y2="58.2" stroke="#000" stroke-width="1.6"/>
<line x1="63.4" y1="111.2" x2="316.4" y2="111.2" stroke="#000" stroke-width="1.6"/>
<line x1="63.4" y1="164.2" x2="316.4" y2="164.2" stroke="#000" stroke-width="1.6"/>
<line x1="63.4" y1="217.5" x2="316.4" y2="217.5" stroke="#000" stroke-width="1.6"/>
<line x1="63.4" y1="270.4" x2="316.4" y2="270.4" stroke="#000" stroke-width="1.6"/>
<line x1="63.4" y1="323.6" x2="316.4" y2="323.6" stroke="#000" stroke-width="1.6"/>
<line x1="63.4" y1="376.7" x2="316.4" y2="376.7" stroke="#000" stroke-width="1.6"/>
<line x1="63.4" y1="429.7" x2="316.4" y2="429.7" stroke="#000" stroke-width="1.6"/>
<line x1="63.40" y1="5.2" x2="63.40" y2="7.6" stroke="#000" stroke-width="1.3"/>
<line x1="63.40" y1="58.2" x2="63.40" y2="55.800000000000004" stroke="#000" stroke-width="1.3"/>
<line x1="63.40" y1="58.2" x2="63.40" y2="60.6" stroke="#000" stroke-width="1.3"/>
<line x1="63.40" y1="111.2" x2="63.40" y2="108.8" stroke="#000" stroke-width="1.3"/>
<line x1="63.40" y1="111.2" x2="63.40" y2="113.60000000000001" stroke="#000" stroke-width="1.3"/>
<line x1="63.40" y1="164.2" x2="63.40" y2="161.79999999999998" stroke="#000" stroke-width="1.3"/>
<line x1="63.40" y1="164.2" x2="63.40" y2="166.6" stroke="#000" stroke-width="1.3"/>
<line x1="63.40" y1="217.5" x2="63.40" y2="215.1" stroke="#000" stroke-width="1.3"/>
<line x1="63.40" y1="217.5" x2="63.40" y2="219.9" stroke="#000" stroke-width="1.3"/>
<line x1="63.40" y1="270.4" x2="63.40" y2="268.0" stroke="#000" stroke-width="1.3"/>
<line x1="63.40" y1="270.4" x2="63.40" y2="272.79999999999995" stroke="#000" stroke-width="1.3"/>
<line x1="63.40" y1="323.6" x2="63.40" y2="321.20000000000005" stroke="#000" stroke-width="1.3"/>
<line x1="63.40" y1="323.6" x2="63.40" y2="326.0" stroke="#000" stroke-width="1.3"/>
<line x1="63.40" y1="376.7" x2="63.40" y2="374.3" stroke="#000" stroke-width="1.3"/>
<line x1="63.40" y1="376.7" x2="63.40" y2="379.09999999999997" stroke="#000" stroke-width="1.3"/>
<line x1="63.40" y1="429.7" x2="63.40" y2="427.3" stroke="#000" stroke-width="1.3"/>
<line x1="63.40" y1="429.7" x2="63.40" y2="432.09999999999997" stroke="#000" stroke-width="1.3"/>
<line x1="63.40" y1="482.9" x2="63.40" y2="480.5" stroke="#000" stroke-width="1.3"/>
<line x1="112.95" y1="5.2" x2="112.95" y2="7.6" stroke="#000" stroke-width="1.3"/>
<line x1="112.95" y1="58.2" x2="112.95" y2="55.800000000000004" stroke="#000" stroke-width="1.3"/>
<line x1="112.95" y1="58.2" x2="112.95" y2="60.6" stroke="#000" stroke-width="1.3"/>
<line x1="112.95" y1="111.2" x2="112.95" y2="108.8" stroke="#000" stroke-width="1.3"/>
<line x1="112.95" y1="111.2" x2="112.95" y2="113.60000000000001" stroke="#000" stroke-width="1.3"/>
<line x1="112.95" y1="164.2" x2="112.95" y2="161.79999999999998" stroke="#000" stroke-width="1.3"/>
<line x1="112.95" y1="164.2" x2="112.95" y2="166.6" stroke="#000" stroke-width="1.3"/>
<line x1="112.95" y1="217.5" x2="112.95" y2="215.1" stroke="#000" stroke-width="1.3"/>
<line x1="112.95" y1="217.5" x2="112.95" y2="219.9" stroke="#000" stroke-width="1.3"/>
<line x1="112.95" y1="270.4" x2="112.95" y2="268.0" stroke="#000" stroke-width="1.3"/>
<line x1="112.95" y1="270.4" x2="112.95" y2="272.79999999999995" stroke="#000" stroke-width="1.3"/>
<line x1="112.95" y1="323.6" x2="112.95" y2="321.20000000000005" stroke="#000" stroke-width="1.3"/>
<line x1="112.95" y1="323.6" x2="112.95" y2="326.0" stroke="#000" stroke-width="1.3"/>
<line x1="112.95" y1="376.7" x2="112.95" y2="374.3" stroke="#000" stroke-width="1.3"/>
<line x1="112.95" y1="376.7" x2="112.95" y2="379.09999999999997" stroke="#000" stroke-width="1.3"/>
<line x1="112.95" y1="429.7" x2="112.95" y2="427.3" stroke="#000" stroke-width="1.3"/>
<line x1="112.95" y1="429.7" x2="112.95" y2="432.09999999999997" stroke="#000" stroke-width="1.3"/>
<line x1="112.95" y1="482.9" x2="112.95" y2="480.5" stroke="#000" stroke-width="1.3"/>
<line x1="162.50" y1="5.2" x2="162.50" y2="7.6" stroke="#000" stroke-width="1.3"/>
<line x1="162.50" y1="58.2" x2="162.50" y2="55.800000000000004" stroke="#000" stroke-width="1.3"/>
<line x1="162.50" y1="58.2" x2="162.50" y2="60.6" stroke="#000" stroke-width="1.3"/>
<line x1="162.50" y1="111.2" x2="162.50" y2="108.8" stroke="#000" stroke-width="1.3"/>
<line x1="162.50" y1="111.2" x2="162.50" y2="113.60000000000001" stroke="#000" stroke-width="1.3"/>
<line x1="162.50" y1="164.2" x2="162.50" y2="161.79999999999998" stroke="#000" stroke-width="1.3"/>
<line x1="162.50" y1="164.2" x2="162.50" y2="166.6" stroke="#000" stroke-width="1.3"/>
<line x1="162.50" y1="217.5" x2="162.50" y2="215.1" stroke="#000" stroke-width="1.3"/>
<line x1="162.50" y1="217.5" x2="162.50" y2="219.9" stroke="#000" stroke-width="1.3"/>
<line x1="162.50" y1="270.4" x2="162.50" y2="268.0" stroke="#000" stroke-width="1.3"/>
<line x1="162.50" y1="270.4" x2="162.50" y2="272.79999999999995" stroke="#000" stroke-width="1.3"/>
<line x1="162.50" y1="323.6" x2="162.50" y2="321.20000000000005" stroke="#000" stroke-width="1.3"/>
<line x1="162.50" y1="323.6" x2="162.50" y2="326.0" stroke="#000" stroke-width="1.3"/>
<line x1="162.50" y1="376.7" x2="162.50" y2="374.3" stroke="#000" stroke-width="1.3"/>
<line x1="162.50" y1="376.7" x2="162.50" y2="379.09999999999997" stroke="#000" stroke-width="1.3"/>
<line x1="162.50" y1="429.7" x2="162.50" y2="427.3" stroke="#000" stroke-width="1.3"/>
<line x1="162.50" y1="429.7" x2="162.50" y2="432.09999999999997" stroke="#000" stroke-width="1.3"/>
<line x1="162.50" y1="482.9" x2="162.50" y2="480.5" stroke="#000" stroke-width="1.3"/>
<line x1="212.05" y1="5.2" x2="212.05" y2="7.6" stroke="#000" stroke-width="1.3"/>
<line x1="212.05" y1="58.2" x2="212.05" y2="55.800000000000004" stroke="#000" stroke-width="1.3"/>
<line x1="212.05" y1="58.2" x2="212.05" y2="60.6" stroke="#000" stroke-width="1.3"/>
<line x1="212.05" y1="111.2" x2="212.05" y2="108.8" stroke="#000" stroke-width="1.3"/>
<line x1="212.05" y1="111.2" x2="212.05" y2="113.60000000000001" stroke="#000" stroke-width="1.3"/>
<line x1="212.05" y1="164.2" x2="212.05" y2="161.79999999999998" stroke="#000" stroke-width="1.3"/>
<line x1="212.05" y1="164.2" x2="212.05" y2="166.6" stroke="#000" stroke-width="1.3"/>
<line x1="212.05" y1="217.5" x2="212.05" y2="215.1" stroke="#000" stroke-width="1.3"/>
<line x1="212.05" y1="217.5" x2="212.05" y2="219.9" stroke="#000" stroke-width="1.3"/>
<line x1="212.05" y1="270.4" x2="212.05" y2="268.0" stroke="#000" stroke-width="1.3"/>
<line x1="212.05" y1="270.4" x2="212.05" y2="272.79999999999995" stroke="#000" stroke-width="1.3"/>
<line x1="212.05" y1="323.6" x2="212.05" y2="321.20000000000005" stroke="#000" stroke-width="1.3"/>
<line x1="212.05" y1="323.6" x2="212.05" y2="326.0" stroke="#000" stroke-width="1.3"/>
<line x1="212.05" y1="376.7" x2="212.05" y2="374.3" stroke="#000" stroke-width="1.3"/>
<line x1="212.05" y1="376.7" x2="212.05" y2="379.09999999999997" stroke="#000" stroke-width="1.3"/>
<line x1="212.05" y1="429.7" x2="212.05" y2="427.3" stroke="#000" stroke-width="1.3"/>
<line x1="212.05" y1="429.7" x2="212.05" y2="432.09999999999997" stroke="#000" stroke-width="1.3"/>
<line x1="212.05" y1="482.9" x2="212.05" y2="480.5" stroke="#000" stroke-width="1.3"/>
<line x1="261.60" y1="5.2" x2="261.60" y2="7.6" stroke="#000" stroke-width="1.3"/>
<line x1="261.60" y1="58.2" x2="261.60" y2="55.800000000000004" stroke="#000" stroke-width="1.3"/>
<line x1="261.60" y1="58.2" x2="261.60" y2="60.6" stroke="#000" stroke-width="1.3"/>
<line x1="261.60" y1="111.2" x2="261.60" y2="108.8" stroke="#000" stroke-width="1.3"/>
<line x1="261.60" y1="111.2" x2="261.60" y2="113.60000000000001" stroke="#000" stroke-width="1.3"/>
<line x1="261.60" y1="164.2" x2="261.60" y2="161.79999999999998" stroke="#000" stroke-width="1.3"/>
<line x1="261.60" y1="164.2" x2="261.60" y2="166.6" stroke="#000" stroke-width="1.3"/>
<line x1="261.60" y1="217.5" x2="261.60" y2="215.1" stroke="#000" stroke-width="1.3"/>
<line x1="261.60" y1="217.5" x2="261.60" y2="219.9" stroke="#000" stroke-width="1.3"/>
<line x1="261.60" y1="270.4" x2="261.60" y2="268.0" stroke="#000" stroke-width="1.3"/>
<line x1="261.60" y1="270.4" x2="261.60" y2="272.79999999999995" stroke="#000" stroke-width="1.3"/>
<line x1="261.60" y1="323.6" x2="261.60" y2="321.20000000000005" stroke="#000" stroke-width="1.3"/>
<line x1="261.60" y1="323.6" x2="261.60" y2="326.0" stroke="#000" stroke-width="1.3"/>
<line x1="261.60" y1="376.7" x2="261.60" y2="374.3" stroke="#000" stroke-width="1.3"/>
<line x1="261.60" y1="376.7" x2="261.60" y2="379.09999999999997" stroke="#000" stroke-width="1.3"/>
<line x1="261.60" y1="429.7" x2="261.60" y2="427.3" stroke="#000" stroke-width="1.3"/>
<line x1="261.60" y1="429.7" x2="261.60" y2="432.09999999999997" stroke="#000" stroke-width="1.3"/>
<line x1="261.60" y1="482.9" x2="261.60" y2="480.5" stroke="#000" stroke-width="1.3"/>
<line x1="311.15" y1="5.2" x2="311.15" y2="7.6" stroke="#000" stroke-width="1.3"/>
<line x1="311.15" y1="58.2" x2="311.15" y2="55.800000000000004" stroke="#000" stroke-width="1.3"/>
<line x1="311.15" y1="58.2" x2="311.15" y2="60.6" stroke="#000" stroke-width="1.3"/>
<line x1="311.15" y1="111.2" x2="311.15" y2="108.8" stroke="#000" stroke-width="1.3"/>
<line x1="311.15" y1="111.2" x2="311.15" y2="113.60000000000001" stroke="#000" stroke-width="1.3"/>
<line x1="311.15" y1="164.2" x2="311.15" y2="161.79999999999998" stroke="#000" stroke-width="1.3"/>
<line x1="311.15" y1="164.2" x2="311.15" y2="166.6" stroke="#000" stroke-width="1.3"/>
<line x1="311.15" y1="217.5" x2="311.15" y2="215.1" stroke="#000" stroke-width="1.3"/>
<line x1="311.15" y1="217.5" x2="311.15" y2="219.9" stroke="#000" stroke-width="1.3"/>
<line x1="311.15" y1="270.4" x2="311.15" y2="268.0" stroke="#000" stroke-width="1.3"/>
<line x1="311.15" y1="270.4" x2="311.15" y2="272.79999999999995" stroke="#000" stroke-width="1.3"/>
<line x1="311.15" y1="323.6" x2="311.15" y2="321.20000000000005" stroke="#000" stroke-width="1.3"/>
<line x1="311.15" y1="323.6" x2="311.15" y2="326.0" stroke="#000" stroke-width="1.3"/>
<line x1="311.15" y1="376.7" x2="311.15" y2="374.3" stroke="#000" stroke-width="1.3"/>
<line x1="311.15" y1="376.7" x2="311.15" y2="379.09999999999997" stroke="#000" stroke-width="1.3"/>
<line x1="311.15" y1="429.7" x2="311.15" y2="427.3" stroke="#000" stroke-width="1.3"/>
<line x1="311.15" y1="429.7" x2="311.15" y2="432.09999999999997" stroke="#000" stroke-width="1.3"/>
<line x1="311.15" y1="482.9" x2="311.15" y2="480.5" stroke="#000" stroke-width="1.3"/>
<line x1="63.4" y1="15.76" x2="65.8" y2="15.76" stroke="#000" stroke-width="1.3"/>
<line x1="316.4" y1="15.76" x2="314.0" y2="15.76" stroke="#000" stroke-width="1.3"/>
<line x1="63.4" y1="26.30" x2="65.8" y2="26.30" stroke="#000" stroke-width="1.3"/>
<line x1="316.4" y1="26.30" x2="314.0" y2="26.30" stroke="#000" stroke-width="1.3"/>
<line x1="63.4" y1="36.90" x2="65.8" y2="36.90" stroke="#000" stroke-width="1.3"/>
<line x1="316.4" y1="36.90" x2="314.0" y2="36.90" stroke="#000" stroke-width="1.3"/>
<line x1="63.4" y1="47.40" x2="65.8" y2="47.40" stroke="#000" stroke-width="1.3"/>
<line x1="316.4" y1="47.40" x2="314.0" y2="47.40" stroke="#000" stroke-width="1.3"/>
<line x1="63.4" y1="66.60" x2="65.8" y2="66.60" stroke="#000" stroke-width="1.3"/>
<line x1="316.4" y1="66.60" x2="314.0" y2="66.60" stroke="#000" stroke-width="1.3"/>
<line x1="63.4" y1="84.30" x2="65.8" y2="84.30" stroke="#000" stroke-width="1.3"/>
<line x1="316.4" y1="84.30" x2="314.0" y2="84.30" stroke="#000" stroke-width="1.3"/>
<line x1="63.4" y1="101.90" x2="65.8" y2="101.90" stroke="#000" stroke-width="1.3"/>
<line x1="316.4" y1="101.90" x2="314.0" y2="101.90" stroke="#000" stroke-width="1.3"/>
<line x1="63.4" y1="119.60" x2="65.8" y2="119.60" stroke="#000" stroke-width="1.3"/>
<line x1="316.4" y1="119.60" x2="314.0" y2="119.60" stroke="#000" stroke-width="1.3"/>
<line x1="63.4" y1="137.30" x2="65.8" y2="137.30" stroke="#000" stroke-width="1.3"/>
<line x1="316.4" y1="137.30" x2="314.0" y2="137.30" stroke="#000" stroke-width="1.3"/>
<line x1="63.4" y1="154.90" x2="65.8" y2="154.90" stroke="#000" stroke-width="1.3"/>
<line x1="316.4" y1="154.90" x2="314.0" y2="154.90" stroke="#000" stroke-width="1.3"/>
<line x1="63.4" y1="177.60" x2="65.8" y2="177.60" stroke="#000" stroke-width="1.3"/>
<line x1="316.4" y1="177.60" x2="314.0" y2="177.60" stroke="#000" stroke-width="1.3"/>
<line x1="63.4" y1="190.90" x2="65.8" y2="190.90" stroke="#000" stroke-width="1.3"/>
<line x1="316.4" y1="190.90" x2="314.0" y2="190.90" stroke="#000" stroke-width="1.3"/>
<line x1="63.4" y1="204.10" x2="65.8" y2="204.10" stroke="#000" stroke-width="1.3"/>
<line x1="316.4" y1="204.10" x2="314.0" y2="204.10" stroke="#000" stroke-width="1.3"/>
<line x1="63.4" y1="228.80" x2="65.8" y2="228.80" stroke="#000" stroke-width="1.3"/>
<line x1="316.4" y1="228.80" x2="314.0" y2="228.80" stroke="#000" stroke-width="1.3"/>
<line x1="63.4" y1="240.10" x2="65.8" y2="240.10" stroke="#000" stroke-width="1.3"/>
<line x1="316.4" y1="240.10" x2="314.0" y2="240.10" stroke="#000" stroke-width="1.3"/>
<line x1="63.4" y1="251.30" x2="65.8" y2="251.30" stroke="#000" stroke-width="1.3"/>
<line x1="316.4" y1="251.30" x2="314.0" y2="251.30" stroke="#000" stroke-width="1.3"/>
<line x1="63.4" y1="262.60" x2="65.8" y2="262.60" stroke="#000" stroke-width="1.3"/>
<line x1="316.4" y1="262.60" x2="314.0" y2="262.60" stroke="#000" stroke-width="1.3"/>
<line x1="63.4" y1="281.00" x2="65.8" y2="281.00" stroke="#000" stroke-width="1.3"/>
<line x1="316.4" y1="281.00" x2="314.0" y2="281.00" stroke="#000" stroke-width="1.3"/>
<line x1="63.4" y1="302.40" x2="65.8" y2="302.40" stroke="#000" stroke-width="1.3"/>
<line x1="316.4" y1="302.40" x2="314.0" y2="302.40" stroke="#000" stroke-width="1.3"/>
<line x1="63.4" y1="336.80" x2="65.8" y2="336.80" stroke="#000" stroke-width="1.3"/>
<line x1="316.4" y1="336.80" x2="314.0" y2="336.80" stroke="#000" stroke-width="1.3"/>
<line x1="63.4" y1="350.00" x2="65.8" y2="350.00" stroke="#000" stroke-width="1.3"/>
<line x1="316.4" y1="350.00" x2="314.0" y2="350.00" stroke="#000" stroke-width="1.3"/>
<line x1="63.4" y1="363.10" x2="65.8" y2="363.10" stroke="#000" stroke-width="1.3"/>
<line x1="316.4" y1="363.10" x2="314.0" y2="363.10" stroke="#000" stroke-width="1.3"/>
<line x1="63.4" y1="390.10" x2="65.8" y2="390.10" stroke="#000" stroke-width="1.3"/>
<line x1="316.4" y1="390.10" x2="314.0" y2="390.10" stroke="#000" stroke-width="1.3"/>
<line x1="63.4" y1="403.40" x2="65.8" y2="403.40" stroke="#000" stroke-width="1.3"/>
<line x1="316.4" y1="403.40" x2="314.0" y2="403.40" stroke="#000" stroke-width="1.3"/>
<line x1="63.4" y1="416.50" x2="65.8" y2="416.50" stroke="#000" stroke-width="1.3"/>
<line x1="316.4" y1="416.50" x2="314.0" y2="416.50" stroke="#000" stroke-width="1.3"/>
<line x1="63.4" y1="440.50" x2="65.8" y2="440.50" stroke="#000" stroke-width="1.3"/>
<line x1="316.4" y1="440.50" x2="314.0" y2="440.50" stroke="#000" stroke-width="1.3"/>
<line x1="63.4" y1="451.00" x2="65.8" y2="451.00" stroke="#000" stroke-width="1.3"/>
<line x1="316.4" y1="451.00" x2="314.0" y2="451.00" stroke="#000" stroke-width="1.3"/>
<line x1="63.4" y1="461.70" x2="65.8" y2="461.70" stroke="#000" stroke-width="1.3"/>
<line x1="316.4" y1="461.70" x2="314.0" y2="461.70" stroke="#000" stroke-width="1.3"/>
<line x1="63.4" y1="472.20" x2="65.8" y2="472.20" stroke="#000" stroke-width="1.3"/>
<line x1="316.4" y1="472.20" x2="314.0" y2="472.20" stroke="#000" stroke-width="1.3"/>
<rect x="63.4" y="206" width="121.19999999999999" height="37.69999999999999" fill="#fff" stroke="#222" stroke-width="1.1"/>
<line x1="72.1" y1="216.4" x2="114.3" y2="216.4" stroke="#a03c9a" stroke-width="1.3"/>
<line x1="72.1" y1="233.6" x2="114.3" y2="233.6" stroke="#3e4ca2" stroke-width="1.3"/>
<g font-family='"Liberation Serif", serif' font-size="14" fill="#000" stroke="#000" stroke-width="0.28">
<text x="119" y="221.7">Realistic</text>
<text x="119" y="238.5">Optimistic</text>
</g>
<g font-family='"Liberation Serif", serif' font-size="14" fill="#000" stroke="#000" stroke-width="0.28" text-anchor="end">
<text x="59" y="10.6">100</text>
<text x="59" y="21.2">80</text>
<text x="59" y="31.7">60</text>
<text x="59" y="42.3">40</text>
<text x="59" y="52.8">20</text>
<text x="59" y="72.0">4</text>
<text x="59" y="89.7">3</text>
<text x="59" y="107.3">2</text>
<text x="59" y="125.0">40</text>
<text x="59" y="142.7">30</text>
<text x="59" y="160.3">20</text>
<text x="59" y="183.0">6</text>
<text x="59" y="196.3">4</text>
<text x="59" y="209.5">2</text>
<text x="59" y="222.8">0</text>
<text x="59" y="234.2">2</text>
<text x="59" y="245.5">1.5</text>
<text x="59" y="256.7">1</text>
<text x="59" y="268.0">0.5</text>
<text x="59" y="279.2">0</text>
<text x="59" y="286.4">4</text>
<text x="59" y="307.8">2</text>
<text x="59" y="329.1">0</text>
<text x="59" y="342.2">3.5</text>
<text x="59" y="355.4">3</text>
<text x="59" y="368.5">2.5</text>
<text x="59" y="382.0">2</text>
<text x="59" y="395.5">1.5</text>
<text x="59" y="408.8">1</text>
<text x="59" y="421.9">0.5</text>
<text x="59" y="435.1">0</text>
<text x="59" y="445.9">4</text>
<text x="59" y="456.4">3</text>
<text x="59" y="467.1">2</text>
<text x="59" y="477.6">1</text>
<text x="59" y="488.1">0</text>
</g>
<g font-family='"Liberation Serif", serif' font-size="14" fill="#000" stroke="#000" stroke-width="0.28" text-anchor="middle">
<text x="63.4" y="500">249</text>
<text x="112.9" y="500">250</text>
<text x="162.5" y="500">251</text>
<text x="212.0" y="500">252</text>
<text x="261.6" y="500">253</text>
<text x="311.1" y="500">254</text>
<text x="189.4" y="516.6">Time [s]</text>
</g>
<g font-family='"Liberation Serif", serif' font-size="14" fill="#000" stroke="#000" stroke-width="0.28">
<text transform="translate(23,31.9) rotate(-90)" text-anchor="middle">W<tspan dx="0" dy="7" font-size="11">th</tspan><tspan dy="-7"> [MJ]</tspan></text>
<text transform="translate(17.1,84.2) rotate(-90)" text-anchor="middle">n<tspan dx="0" dy="6.5" font-size="12">e,lin</tspan></text>
<text transform="translate(42.8,84) rotate(-90)" text-anchor="middle">[10<tspan dx="0" dy="-6.2" font-size="12">19</tspan><tspan dy="6.2"> m</tspan><tspan dx="0" dy="-6.2" font-size="12">−3</tspan><tspan dy="6.2">]</tspan></text>
<text transform="translate(36.4,137.8) rotate(-90)" text-anchor="middle">MW</text>
<text transform="translate(37.3,190.8) rotate(-90)" text-anchor="middle">P<tspan dx="0" dy="-7.5" font-size="11">NB</tspan><tspan dx="-14" dy="14" font-size="11">ST</tspan><tspan dy="-6.5" dx="1"> [MW]</tspan></text>
<text transform="translate(32.1,245.2) rotate(-90)" text-anchor="middle">α</text>
<text transform="translate(17.2,297.5) rotate(-90)" text-anchor="middle">n<tspan dx="-1" dy="-6.5" font-size="12">OT</tspan><tspan dx="-14.5" dy="13" font-size="12">e</tspan><tspan dy="-6.5" font-size="1"> </tspan></text>
<text transform="translate(44.5,297) rotate(-90)" text-anchor="middle">[10<tspan dx="0" dy="-6.2" font-size="12">20</tspan><tspan dy="6.2"> m</tspan><tspan dx="0" dy="-6.2" font-size="12">−3</tspan><tspan dy="6.2">]</tspan></text>
<text transform="translate(25.6,374.8) rotate(-90)" text-anchor="start">T<tspan dx="-0.6" dy="-7.5" font-size="10">OT</tspan><tspan dx="-15" dy="15.5" font-size="12">e</tspan><tspan dy="-8" dx="10"> [eV]</tspan></text>
<text transform="translate(8.5,404.5) rotate(-90)" text-anchor="middle">q<tspan dx="0" dy="6.5" font-size="12">OT,max</tspan></text>
<text transform="translate(30.8,403.5) rotate(-90)" text-anchor="middle">[MW/m<tspan dx="0" dy="-6.2" font-size="12">2</tspan><tspan dy="6.2">]</tspan></text>
<text transform="translate(19.7,458) rotate(-90)" text-anchor="middle">Ti<tspan dx="0" dy="6.5" font-size="12">jimax,OT</tspan></text>
<text transform="translate(41.3,455.6) rotate(-90)" text-anchor="middle">[eV]</text>
</g>
</svg>
</body></html>
